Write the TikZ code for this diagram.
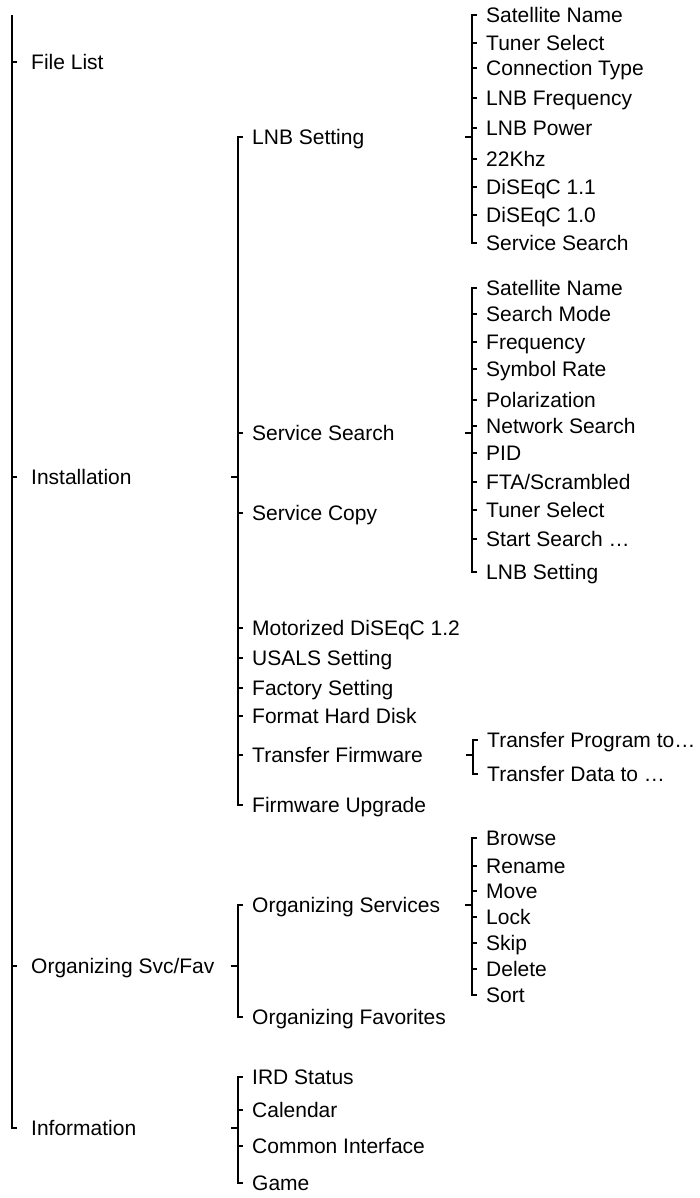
\documentclass[tikz,border=0pt]{standalone}
\usepackage{fontspec}
\setmainfont{Liberation Sans}
\definecolor{menuink}{HTML}{000000}

\begin{document}
\begin{tikzpicture}[
  x=1pt,
  y=-1pt,
  every node/.style={font=\fontsize{21}{25}\selectfont, menuink},
  item/.style={anchor=west, inner sep=0pt, text height=15pt, text depth=0pt},
  brace/.style={menuink, line width=2.6pt},
  tick/.style={menuink, line width=2.6pt}
]
  % ---- page frame ----
  \useasboundingbox (0,0) rectangle (699,1198);

  % ---- top level menu ----
  \node[item] (filelist) at (31,62)   {File List};
  \node[item] (install)  at (31,477)  {Installation};
  \node[item] (organize) at (31,966)  {Organizing Svc/Fav};
  \node[item] (info)     at (31,1128) {Information};
  \coordinate (roottop) at (12,15);

  \draw[brace] (roottop) -- ([xshift=-19pt]info.west) -- ([xshift=-14pt]info.west);
  \foreach \n in {filelist,install,organize}
    \draw[tick] ([xshift=-19pt]\n.west) -- ++(5,0);

  % ---- Installation ----
  \foreach \y/\t [count=\i] in {137/LNB Setting, 433/Service Search,
      513/Service Copy, 628/Motorized DiSEqC 1.2, 658/USALS Setting,
      688/Factory Setting, 716/Format Hard Disk, 755/Transfer Firmware,
      805/Firmware Upgrade}
    \node[item] (inst\i) at (252,\y) {\t};

  \draw[brace] ([xshift=-9pt]inst1.west) -- ([xshift=-14pt]inst1.west)
    -- ([xshift=-14pt]inst9.west) -- ([xshift=-9pt]inst9.west);
  \foreach \i in {2,...,8}
    \draw[tick] ([xshift=-14pt]inst\i.west) -- ++(5,0);
  \draw[tick] ([xshift=-14pt]inst1.west |- install.west) -- ++(-7,0);

  % ---- LNB Setting ----
  \foreach \y/\t [count=\i] in {15/Satellite Name, 43/Tuner Select,
      68/Connection Type, 98/LNB Frequency, 128/LNB Power, 159/22Khz,
      187/DiSEqC 1.1, 215/DiSEqC 1.0, 243/Service Search}
    \node[item] (lnb\i) at (486,\y) {\t};

  \draw[brace] ([xshift=-9pt]lnb1.west) -- ([xshift=-14pt]lnb1.west)
    -- ([xshift=-14pt]lnb9.west) -- ([xshift=-9pt]lnb9.west);
  \foreach \i in {2,...,8}
    \draw[tick] ([xshift=-14pt]lnb\i.west) -- ++(5,0);
  \draw[tick] ([xshift=-14pt]lnb1.west |- inst1.west) -- ++(-7,0);

  % ---- Service Search ----
  \foreach \y/\t [count=\i] in {288/Satellite Name, 314/Search Mode,
      342/Frequency, 369/Symbol Rate, 400/Polarization, 426/Network Search,
      453/PID, 482/{FTA/Scrambled}, 510/Tuner Select, 539/Start Search …,
      572/LNB Setting}
    \node[item] (srch\i) at (486,\y) {\t};

  \draw[brace] ([xshift=-9pt]srch1.west) -- ([xshift=-14pt]srch1.west)
    -- ([xshift=-14pt]srch11.west) -- ([xshift=-9pt]srch11.west);
  \foreach \i in {2,...,10}
    \draw[tick] ([xshift=-14pt]srch\i.west) -- ++(5,0);
  \draw[tick] ([xshift=-14pt]srch1.west |- inst2.west) -- ++(-7,0);

  % ---- Transfer Firmware ----
  \node[item] (xfer1) at (487,740) {Transfer Program to…};
  \node[item] (xfer2) at (487,774) {Transfer Data to …};

  \draw[brace] ([xshift=-9pt]xfer1.west) -- ([xshift=-14pt]xfer1.west)
    -- ([xshift=-14pt]xfer2.west) -- ([xshift=-9pt]xfer2.west);
  \draw[tick] ([xshift=-14pt]xfer1.west |- inst8.west) -- ++(-7,0);

  % ---- Organizing Svc/Fav ----
  \node[item] (org1) at (252,905)  {Organizing Services};
  \node[item] (org2) at (252,1017) {Organizing Favorites};

  \draw[brace] ([xshift=-9pt]org1.west) -- ([xshift=-14pt]org1.west)
    -- ([xshift=-14pt]org2.west) -- ([xshift=-9pt]org2.west);
  \draw[tick] ([xshift=-14pt]org1.west |- organize.west) -- ++(-7,0);

  % ---- Organizing Services ----
  \foreach \y/\t [count=\i] in {838/Browse, 866/Rename, 891/Move, 917/Lock,
      943/Skip, 969/Delete, 995/Sort}
    \node[item] (svc\i) at (486,\y) {\t};

  \draw[brace] ([xshift=-9pt]svc1.west) -- ([xshift=-14pt]svc1.west)
    -- ([xshift=-14pt]svc7.west) -- ([xshift=-9pt]svc7.west);
  \foreach \i in {2,...,6}
    \draw[tick] ([xshift=-14pt]svc\i.west) -- ++(5,0);
  \draw[tick] ([xshift=-14pt]svc1.west |- org1.west) -- ++(-7,0);

  % ---- Information ----
  \foreach \y/\t [count=\i] in {1077/IRD Status, 1110/Calendar,
      1146/Common Interface, 1183/Game}
    \node[item] (ird\i) at (252,\y) {\t};

  \draw[brace] ([xshift=-9pt]ird1.west) -- ([xshift=-14pt]ird1.west)
    -- ([xshift=-14pt]ird4.west) -- ([xshift=-9pt]ird4.west);
  \foreach \i in {2,3}
    \draw[tick] ([xshift=-14pt]ird\i.west) -- ++(5,0);
  \draw[tick] ([xshift=-14pt]ird1.west |- info.west) -- ++(-7,0);
\end{tikzpicture}
\end{document}
